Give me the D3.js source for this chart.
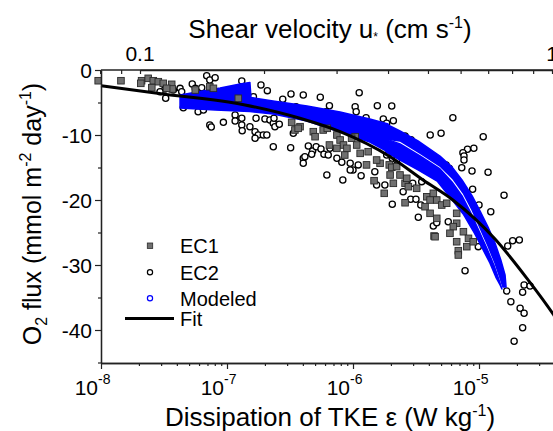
<!DOCTYPE html>
<html>
<head>
<meta charset="utf-8">
<script src="https://cdn.jsdelivr.net/npm/d3@7"></script>
<style>
  body { margin: 0; background: #fff; }
  svg { display: block; font-family: "Liberation Sans", Arial, sans-serif; }
</style>
</head>
<body>
<svg id="chart" width="553" height="431"></svg>
<script>
// EC1 eddy correlation fluxes: [dissipation (W/kg), O2 flux]
const ec1 = [
  [9.5e-9, -1.65], [1.44e-8, -1.65], [2.1e-8, -1.65], [2.37e-8, -1.28], [2.07e-8, -2.05],
  [2.6e-8, -1.65], [2.85e-8, -1.8], [3.12e-8, -2.05], [2.53e-8, -2.72], [3.64e-8, -2.2],
  [3.68e-8, -2.92], [3.32e-8, -2.82], [5.6e-8, -3.08], [7.3e-8, -2.57], [7.8e-8, -2.82],
  [1.23e-7, -4.35], [3.26e-7, -8.05], [3.8e-7, -8.72], [3.46e-7, -9.23], [4.84e-7, -9.49],
  [5.0e-7, -10.26], [5.8e-7, -9.23], [6.25e-7, -8.97], [7.45e-7, -10.0], [7.9e-7, -10.77],
  [8.4e-7, -11.54], [7.45e-7, -12.05], [8.95e-7, -12.05], [1.04e-6, -10.26], [1.07e-6, -11.54],
  [1.14e-6, -12.82], [1.32e-6, -12.57], [1.28e-6, -14.6], [1.64e-6, -14.35], [1.54e-6, -13.85],
  [1.94e-6, -14.6], [8.6e-7, -13.08], [2.03e-6, -14.97], [2.22e-6, -14.87], [1.97e-6, -16.15],
  [2.36e-6, -16.15], [2.09e-6, -17.43], [2.59e-6, -17.43], [2.67e-6, -16.66], [2.75e-6, -17.95],
  [3.2e-6, -18.2], [1.47e-6, -17.03], [1.77e-6, -18.97], [2.59e-6, -20.42], [3.85e-6, -19.5],
  [4.09e-6, -20.0], [3.73e-6, -21.03], [4.62e-6, -20.0], [4.09e-6, -22.05], [4.62e-6, -22.82],
  [4.4e-6, -25.54], [4.34e-6, -18.97], [5.06e-6, -20.77], [5.54e-6, -20.5], [6.65e-6, -22.05],
  [6.65e-6, -23.58], [6.25e-6, -24.1], [7.52e-6, -24.88], [8.25e-6, -25.9], [6.65e-6, -26.42],
  [8.0e-6, -27.18], [9.0e-6, -26.42], [6.85e-6, -27.8], [6.85e-6, -28.46], [4.48e-6, -25.65],
  [5.88e-6, -25.12], [3.67e-7, -8.97], [6.5e-7, -11.54], [9.75e-7, -10.5]
];

// EC2 eddy correlation fluxes
const ec2 = [
  [6.9e-8, -0.88], [7.3e-8, -1.54], [8.05e-8, -1.18], [5.3e-8, -2.15], [5.6e-8, -2.82],
  [6.3e-8, -2.72], [4.24e-8, -2.82], [3.75e-8, -3.08], [3.22e-8, -2.92], [2.94e-8, -3.34],
  [3.26e-8, -4.35], [4.5e-8, -5.8], [5.9e-8, -6.42], [6.5e-8, -6.15], [7.3e-8, -8.46],
  [7.5e-8, -8.77], [9.36e-8, -8.05], [1.16e-7, -6.92], [1.16e-7, -7.85], [1.31e-7, -7.43],
  [1.31e-7, -8.46], [1.32e-7, -9.34], [1.31e-7, -1.69], [4.37e-8, -3.34], [1.86e-7, -2.31],
  [2.09e-7, -3.18], [1.62e-7, -4.1], [2.77e-7, -4.51], [3.22e-7, -3.69], [4.03e-7, -3.85],
  [5.5e-7, -4.2], [1.12e-6, -3.49], [1.56e-6, -5.49], [1.27e-6, -7.34], [1.04e-6, -5.65],
  [1.06e-6, -6.42], [6.5e-7, -5.49], [6.1e-7, -6.42], [3.53e-7, -5.65], [1.74e-6, -7.54],
  [1.85e-6, -8.2], [1.52e-7, -8.72], [1.67e-7, -9.49], [1.77e-7, -10.0], [1.94e-7, -10.0],
  [2.07e-7, -10.0], [1.67e-7, -10.51], [1.7e-7, -7.43], [2.0e-7, -7.54], [2.19e-7, -7.69],
  [2.33e-7, -8.2], [2.4e-7, -8.72], [2.6e-7, -8.35], [2.36e-7, -7.43], [2.33e-7, -11.8],
  [3.2e-7, -11.95], [3.36e-7, -9.74], [4.42e-7, -11.69], [4.78e-7, -12.46], [4.7e-7, -12.97],
  [4.03e-7, -13.58], [4.03e-7, -14.35], [5.1e-7, -11.8], [5.57e-7, -12.15], [5.88e-7, -12.97],
  [6.36e-7, -13.08], [6.56e-7, -12.05], [7.45e-7, -13.58], [8.15e-7, -14.2], [9.5e-7, -14.35],
  [1.0e-6, -15.38], [1.1e-6, -14.6], [1.49e-6, -15.65], [6.2e-7, -16.15], [2.03e-6, -5.54],
  [2.09e-6, -7.8], [6.2e-6, -7.34], [4.1e-6, -10.0], [5.0e-6, -9.74], [2.59e-6, -10.15],
  [2.89e-6, -10.72], [1.08e-5, -10.26], [9.1e-6, -12.05], [8.1e-6, -12.2], [7.45e-6, -12.72],
  [7.6e-6, -13.23], [7.6e-6, -13.85], [7.3e-6, -15.03], [8.8e-6, -15.54], [1.18e-5, -15.74],
  [5.48e-6, -14.6], [5.8e-6, -15.12], [1.85e-6, -13.08], [2.05e-6, -13.58], [2.22e-6, -13.85],
  [3.51e-6, -17.18], [8.9e-6, -18.35], [1.58e-5, -19.28], [1.24e-5, -21.8], [1.0e-5, -20.77],
  [1.85e-5, -26.26], [2.09e-5, -26.15], [1.69e-5, -27.08], [9.87e-6, -27.18], [7.75e-6, -30.88],
  [1.66e-5, -34.0], [2.28e-5, -33.08], [2.54e-5, -33.23], [2.22e-5, -34.2], [1.79e-5, -35.65],
  [2.12e-5, -36.66], [2.28e-5, -37.43], [2.22e-5, -39.65], [1.9e-5, -41.74], [4.34e-6, -24.0],
  [4.62e-6, -23.5], [5.7e-6, -23.34], [8.3e-7, -16.92], [1.16e-6, -16.26], [9.5e-7, -15.38],
  [1.54e-6, -17.69], [1.79e-6, -17.69], [2.5e-6, -18.72], [2.98e-6, -17.43], [2.87e-6, -19.89],
  [3.16e-6, -19.89], [3.45e-6, -20.77], [2.05e-6, -20.66], [3.3e-6, -22.66], [4.15e-7, -13.34]
];

// Modeled fluxes: outline of the dense point clouds (upper edge, then lower edge)
const modeledMainUpper = [
  [4.24e-8, -3.85], [6.1e-8, -3.31], [8.82e-8, -2.77], [1.27e-7, -2.15], [1.52e-7, -1.92],
  [1.55e-7, -4.23], [2.32e-7, -4.77], [4.32e-7, -5.54], [7.9e-7, -6.46], [1.36e-6, -7.54],
  [1.9e-6, -8.31]
];
const modeledMainLower = [
  [4.24e-8, -5.85], [8.05e-8, -6.15], [1.52e-7, -6.38], [2.32e-7, -6.77], [4.32e-7, -7.85],
  [7.9e-7, -9.54], [1.36e-6, -11.08], [1.9e-6, -12.62]
];
const modeledOuterUpper = [
  [1.83e-6, -8.31], [2.36e-6, -9.38], [3.28e-6, -10.92], [4.9e-6, -13.23], [6.1e-6, -14.92],
  [7.33e-6, -16.92], [8.82e-6, -19.38], [1.02e-5, -21.69], [1.18e-5, -24.15], [1.34e-5, -26.62],
  [1.49e-5, -29.23], [1.61e-5, -31.54], [1.64e-5, -33.38]
];
const modeledOuterLower = [
  [1.83e-6, -10.6], [2.36e-6, -10.92], [3.4e-6, -12.77], [4.9e-6, -14.77], [6.23e-6, -16.77],
  [7.49e-6, -18.92], [8.82e-6, -21.54], [1.02e-5, -24.31], [1.18e-5, -27.08], [1.34e-5, -29.69],
  [1.47e-5, -32.0], [1.55e-5, -33.38]
];
const modeledInnerUpper = [
  [1.83e-6, -10.6], [2.36e-6, -11.37], [3.4e-6, -13.22], [4.9e-6, -15.22], [6.1e-6, -17.22],
  [7.33e-6, -19.37], [8.6e-6, -21.99], [1.0e-5, -24.76], [1.16e-5, -27.53], [1.32e-5, -30.14],
  [1.44e-5, -32.28], [1.52e-5, -33.69]
];
const modeledInnerLower = [
  [1.83e-6, -12.62], [2.36e-6, -13.85], [3.28e-6, -15.38], [4.65e-6, -17.08], [5.88e-6, -19.54],
  [7.49e-6, -22.15], [9.0e-6, -24.77], [1.04e-5, -27.08], [1.22e-5, -29.69], [1.36e-5, -31.85],
  [1.47e-5, -33.08]
];

// Fit curve
const fit = [
  [1e-8, -2.42], [3e-8, -3.65], [1.39e-7, -5.38], [3.79e-7, -7.43], [7.9e-7, -9.49],
  [1.97e-6, -13.34], [3.6e-6, -16.92], [6.2e-6, -20.0], [1.34e-5, -26.0], [2.4e-5, -32.05],
  [3.87e-5, -37.54], [4.4e-5, -39.2]
];

const xMajor = [1e-8, 1e-7, 1e-6, 1e-5, 1e-4];
const xLabelled = [1e-8, 1e-7, 1e-6, 1e-5];
const xExponents = ['-8', '-7', '-6', '-5'];
const yMajor = [0, -10, -20, -30, -40];
const yMinor = [-5, -15, -25, -35, -45];
const topTicks = [0.08, 0.09, 0.1, 0.2, 0.3, 0.4, 0.5, 0.6, 0.7, 0.8, 0.9, 1];
const topLabels = { 0.1: '0.1', 1: '1' };

const svg = d3.select('#chart');

const x = d3.scaleLog().domain([1e-8, 1e-4]).range([101, 605]);
const y = d3.scaleLinear().domain([-45, 0]).range([362.5, 70]);
const xTop = d3.scaleLog().domain([0.1, 1]).range([140, 552]);

const BLUE = '#0000ff';
const AXIS = '#222';

// EC2 (drawn first, below the model cloud)
svg.append('g')
  .selectAll('circle')
  .data(ec2)
  .enter()
  .append('circle')
  .attr('cx', d => x(d[0]))
  .attr('cy', d => y(d[1]))
  .attr('r', 3.1)
  .attr('fill', '#fff')
  .attr('stroke', '#000')
  .attr('stroke-width', 1.3);

// modeled clouds
const line = d3.line()
  .x(d => x(d[0]))
  .y(d => y(d[1]));

const clouds = [
  [modeledMainUpper, modeledMainLower],
  [modeledOuterUpper, modeledOuterLower],
  [modeledInnerUpper, modeledInnerLower]
];

const model = svg.append('g');
clouds.forEach(c => {
  const outline = c[0].concat(c[1].slice().reverse());
  model.append('path')
    .attr('d', line(outline) + 'Z')
    .attr('fill', BLUE)
    .attr('stroke', BLUE)
    .attr('stroke-width', 1.5)
    .attr('stroke-linejoin', 'round');
});

// EC1 squares
svg.append('g')
  .selectAll('rect')
  .data(ec1)
  .enter()
  .append('rect')
  .attr('x', d => x(d[0]) - 3.3)
  .attr('y', d => y(d[1]) - 3.3)
  .attr('width', 6.6)
  .attr('height', 6.6)
  .attr('fill', '#707070')
  .attr('stroke', '#2a2a2a')
  .attr('stroke-width', 0.9);

// fit
svg.append('path')
  .datum(fit)
  .attr('d', line.curve(d3.curveMonotoneX))
  .attr('fill', 'none')
  .attr('stroke', '#000')
  .attr('stroke-width', 3);

// ---- axes ----
function styleAxis(g) {
  g.select('.domain').attr('stroke', AXIS).attr('stroke-width', 1.3);
  g.selectAll('.tick line').attr('stroke', AXIS).attr('stroke-width', 1.2);
  g.selectAll('.tick text').remove();
}

// bottom
const minorX = [];
xMajor.slice(0, -1).forEach(d => { for (let k = 2; k < 10; k++) minorX.push(d * k); });

svg.append('g')
  .attr('transform', 'translate(0,363)')
  .call(d3.axisBottom(x).tickValues(minorX).tickSize(3).tickSizeOuter(0))
  .call(styleAxis);
svg.append('g')
  .attr('transform', 'translate(0,363)')
  .call(d3.axisBottom(x).tickValues(xMajor).tickSize(6).tickSizeOuter(0))
  .call(styleAxis);

const xLab = svg.append('g').attr('font-size', 21).attr('fill', '#000');
xLabelled.forEach((v, i) => {
  xLab.append('text')
    .attr('x', x(v) - 3)
    .attr('y', 395)
    .attr('text-anchor', 'end')
    .text('10');
  xLab.append('text')
    .attr('x', x(v) - 3)
    .attr('y', 384)
    .attr('font-size', 14)
    .text(xExponents[i]);
});

// left
svg.append('g')
  .attr('transform', 'translate(101,0)')
  .call(d3.axisLeft(y).tickValues(yMinor).tickSize(3).tickSizeOuter(0))
  .call(styleAxis);
svg.append('g')
  .attr('transform', 'translate(101,0)')
  .call(d3.axisLeft(y).tickValues(yMajor).tickSize(6).tickSizeOuter(0))
  .call(styleAxis);

svg.append('g')
  .attr('font-size', 21)
  .selectAll('text')
  .data(yMajor)
  .enter()
  .append('text')
  .attr('x', 92)
  .attr('y', d => y(d))
  .attr('dy', '0.36em')
  .attr('text-anchor', 'end')
  .text(d => d === 0 ? '0' : '-' + Math.abs(d));

// top
svg.append('g')
  .attr('transform', 'translate(0,70)')
  .call(d3.axisBottom(xTop).tickValues(topTicks).tickSize(4).tickSizeOuter(0))
  .call(styleAxis);
svg.append('line')
  .attr('x1', 101).attr('x2', 553)
  .attr('y1', 70).attr('y2', 70)
  .attr('stroke', AXIS).attr('stroke-width', 1.3);

svg.append('g')
  .attr('font-size', 21)
  .selectAll('text')
  .data(topTicks.filter(d => topLabels[d]))
  .enter()
  .append('text')
  .attr('x', d => xTop(d))
  .attr('y', 61)
  .attr('text-anchor', 'middle')
  .text(d => topLabels[d]);

// titles
const topTitle = svg.append('text')
  .attr('x', 330).attr('y', 38)
  .attr('text-anchor', 'middle')
  .attr('font-size', 26);
topTitle.append('tspan').text('Shear velocity u');
topTitle.append('tspan').attr('font-size', 12).attr('dy', 3).text('*');
topTitle.append('tspan').attr('dy', -3).text(' (cm s');
topTitle.append('tspan').attr('font-size', 16).attr('dy', -10).text('-1');
topTitle.append('tspan').attr('dy', 10).text(')');

const bottomTitle = svg.append('text')
  .attr('x', 330).attr('y', 426)
  .attr('text-anchor', 'middle')
  .attr('font-size', 26);
bottomTitle.append('tspan').text('Dissipation of TKE ε (W kg');
bottomTitle.append('tspan').attr('font-size', 16).attr('dy', -10).text('-1');
bottomTitle.append('tspan').attr('dy', 10).text(')');

const leftTitle = svg.append('text')
  .attr('transform', 'translate(41,214) rotate(-90)')
  .attr('text-anchor', 'middle')
  .attr('font-size', 25);
leftTitle.append('tspan').text('O');
leftTitle.append('tspan').attr('font-size', 16).attr('dy', 6).text('2');
leftTitle.append('tspan').attr('dy', -6).text(' flux (mmol m');
leftTitle.append('tspan').attr('font-size', 16).attr('dy', -10).text('-2');
leftTitle.append('tspan').attr('dy', 10).text(' day');
leftTitle.append('tspan').attr('font-size', 16).attr('dy', -10).text('-1');
leftTitle.append('tspan').attr('dy', 10).text(')');

// legend
const legendItems = ['EC1', 'EC2', 'Modeled', 'Fit'];
const legendY = [245.7, 272.3, 298.3, 318.5];
const lg = svg.append('g').attr('font-size', 20);
legendItems.forEach((name, i) => {
  const cy = legendY[i];
  if (name === 'EC1') {
    lg.append('rect').attr('x', 147.3).attr('y', cy - 2.7).attr('width', 5.4).attr('height', 5.4)
      .attr('fill', '#707070').attr('stroke', '#2a2a2a').attr('stroke-width', 0.8);
  } else if (name === 'EC2') {
    lg.append('circle').attr('cx', 150).attr('cy', cy).attr('r', 2.6)
      .attr('fill', '#fff').attr('stroke', '#000').attr('stroke-width', 1.2);
  } else if (name === 'Modeled') {
    lg.append('circle').attr('cx', 150).attr('cy', cy).attr('r', 2.6)
      .attr('fill', '#fff').attr('stroke', BLUE).attr('stroke-width', 1.2);
  } else {
    lg.append('line').attr('x1', 125).attr('x2', 174).attr('y1', cy).attr('y2', cy)
      .attr('stroke', '#000').attr('stroke-width', 3);
  }
  lg.append('text').attr('x', 180).attr('y', cy).attr('dy', '0.36em').text(name);
});
</script>
</body>
</html>
